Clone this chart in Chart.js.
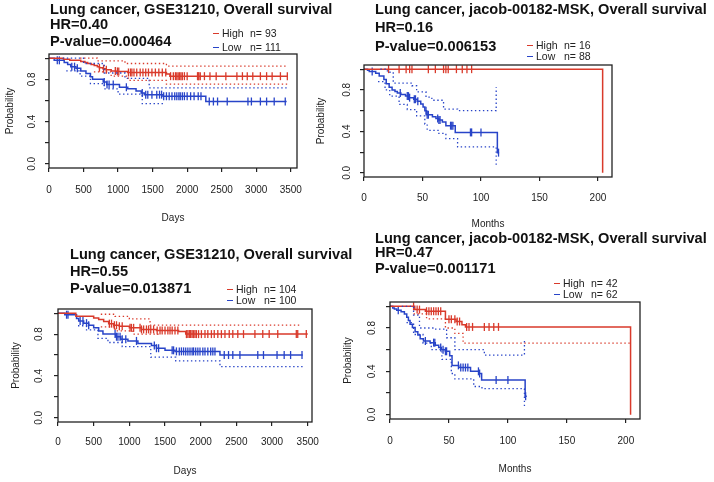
<!DOCTYPE html>
<html>
<head>
<meta charset="utf-8">
<script src="https://cdn.jsdelivr.net/npm/chart.js@4.4.1/dist/chart.umd.min.js"></script>
<style>
  html, body { margin: 0; padding: 0; background: #fff; }
  body { width: 714px; height: 482px; position: relative; overflow: hidden;
         font-family: "Liberation Sans", Arial, sans-serif; color: #111; }
  canvas { position: absolute; left: 0; top: 0; }
  .t { position: absolute; font-weight: bold; font-size: 14.6px; line-height: 1; white-space: nowrap; }
  .lg { position: absolute; font-size: 10.5px; line-height: 1; white-space: nowrap; color: #222; }
  .dash { position: absolute; width: 6px; height: 0; border-top: 1.6px solid; }
</style>
</head>
<body>
<canvas id="p1" width="714" height="482"></canvas>
<canvas id="p2" width="714" height="482"></canvas>
<canvas id="p3" width="714" height="482"></canvas>
<canvas id="p4" width="714" height="482"></canvas>

<div class="t" style="left:50px;top:1.5px">Lung cancer, GSE31210, Overall survival</div>
<div class="t" style="left:50px;top:16.5px">HR=0.40</div>
<div class="t" style="left:50px;top:33.5px">P-value=0.000464</div>

<div class="t" style="left:375px;top:2px">Lung cancer, jacob-00182-MSK, Overall survival</div>
<div class="t" style="left:375px;top:19.5px">HR=0.16</div>
<div class="t" style="left:375px;top:38.5px">P-value=0.006153</div>

<div class="t" style="left:70px;top:246.5px">Lung cancer, GSE31210, Overall survival</div>
<div class="t" style="left:70px;top:263.5px">HR=0.55</div>
<div class="t" style="left:70px;top:280.5px">P-value=0.013871</div>

<div class="t" style="left:375px;top:230.5px">Lung cancer, jacob-00182-MSK, Overall survival</div>
<div class="t" style="left:375px;top:245px">HR=0.47</div>
<div class="t" style="left:375px;top:261px">P-value=0.001171</div>

<div id="legends"></div>

<script>
// ---- shared axis ticks ----
const yTicks = [0, 0.2, 0.4, 0.6, 0.8, 1.0];
const yTickLabels = ["0.0", "", "0.4", "", "0.8", ""];
const dayTicks = [0, 500, 1000, 1500, 2000, 2500, 3000, 3500];
const monthTicks = [0, 50, 100, 150, 200];

// ---- panel 1: GSE31210 (days) ----
const p1HighT = [0, 210, 300, 460, 520, 560, 610, 655, 700, 730, 780, 825, 900, 970, 1140, 1700, 1750, 3460];
const p1HighS = [1, 0.99, 0.98, 0.97, 0.96, 0.95, 0.94, 0.93, 0.92, 0.91, 0.90, 0.89, 0.88, 0.875, 0.865, 0.85, 0.83, 0.83];
const p1HighCens = [730, 790, 830, 960, 990, 1010, 1150, 1180, 1200, 1230, 1270, 1320, 1360, 1400, 1440, 1490, 1540, 1590, 1640, 1690, 1760, 1800, 1830, 1850, 1870, 1890, 1910, 1930, 1960, 2000, 2150, 2160, 2170, 2190, 2250, 2330, 2420, 2560, 2720, 2800, 2870, 2950, 3060, 3150, 3230, 3350, 3450];
const p1HighUpT = [450, 700, 1100, 1700, 3460];
const p1HighUpS = [1.0, 0.975, 0.95, 0.925, 0.925];
const p1HighLoT = [650, 900, 1150, 1700, 3460];
const p1HighLoS = [0.87, 0.83, 0.79, 0.755, 0.755];
const p1LowT = [0, 75, 220, 270, 315, 390, 460, 535, 600, 630, 785, 835, 1020, 1140, 1260, 1335, 1380, 1650, 2270, 3440];
const p1LowS = [1, 0.98, 0.96, 0.94, 0.92, 0.905, 0.88, 0.855, 0.825, 0.80, 0.775, 0.75, 0.725, 0.71, 0.69, 0.67, 0.655, 0.64, 0.59, 0.59];
const p1LowCens = [120, 150, 330, 370, 410, 800, 840, 870, 930, 1120, 1350, 1400, 1430, 1490, 1560, 1600, 1630, 1660, 1700, 1740, 1780, 1820, 1850, 1880, 1900, 1930, 1960, 2000, 2050, 2100, 2160, 2200, 2320, 2380, 2440, 2580, 2880, 2930, 3060, 3150, 3260, 3420];
const p1LowUpT = [200, 500, 800, 1100, 1450, 3440];
const p1LowUpS = [1.0, 0.95, 0.86, 0.81, 0.72, 0.72];
const p1LowLoT = [250, 450, 600, 800, 1000, 1350, 1650];
const p1LowLoS = [0.88, 0.83, 0.76, 0.71, 0.66, 0.57, 0.56];

// ---- panel 2: jacob-00182-MSK (months) ----
const p2HighT = [0, 204];
const p2HighS = [1, 0];
const p2HighCens = [21, 30, 36, 39, 41, 55, 61, 68, 70, 72, 79, 84, 88, 92];
const p2LowT = [0, 3, 4.5, 10, 13, 17, 19, 21.5, 24, 26.5, 28.5, 31.5, 35.5, 38.5, 42.5, 45.5, 48.5, 50.5, 52, 53.5, 58.5, 61.5, 64, 67, 70, 78, 114, 115.5];
const p2LowS = [1, 0.99, 0.977, 0.96, 0.935, 0.90, 0.86, 0.825, 0.80, 0.785, 0.77, 0.755, 0.74, 0.725, 0.71, 0.69, 0.665, 0.635, 0.60, 0.56, 0.54, 0.525, 0.51, 0.49, 0.455, 0.39, 0.195, 0.195];
const p2LowCens = [7, 31, 37, 38, 39, 43, 44, 46, 53, 54, 55, 63, 64, 65, 74, 75, 76, 91, 92, 100, 115];
const p2LowUpT = [14, 20, 25, 41, 45, 53, 58, 68, 80, 113];
const p2LowUpS = [1, 0.97, 0.865, 0.84, 0.78, 0.73, 0.70, 0.615, 0.60, 0.825];
const p2LowLoT = [12, 18, 22, 30, 37, 45, 52, 54, 64, 70, 80, 113];
const p2LowLoS = [0.88, 0.80, 0.74, 0.66, 0.61, 0.55, 0.47, 0.41, 0.38, 0.33, 0.25, 0.06];

// ---- panel 3: GSE31210 (days) ----
const p3HighT = [0, 250, 500, 570, 640, 710, 780, 860, 1000, 1170, 1380, 1690, 1790, 3500];
const p3HighS = [1, 0.97, 0.955, 0.94, 0.92, 0.90, 0.885, 0.875, 0.86, 0.845, 0.835, 0.825, 0.80, 0.80];
const p3HighCens = [720, 750, 790, 820, 860, 900, 1010, 1030, 1060, 1150, 1170, 1200, 1240, 1270, 1300, 1340, 1390, 1430, 1460, 1500, 1540, 1570, 1600, 1640, 1680, 1800, 1820, 1840, 1850, 1860, 1880, 1900, 1920, 1940, 1970, 2010, 2060, 2100, 2150, 2190, 2240, 2290, 2340, 2400, 2450, 2520, 2600, 2760, 2870, 2960, 3080, 3340, 3360, 3480];
const p3HighUpT = [600, 800, 1000, 1290, 3400];
const p3HighUpS = [0.99, 0.97, 0.945, 0.885, 0.885];
const p3HighLoT = [600, 800, 1050, 1400];
const p3HighLoS = [0.87, 0.83, 0.80, 0.78];
const p3LowT = [0, 95, 260, 290, 360, 430, 500, 570, 630, 810, 880, 980, 1120, 1310, 1380, 1500, 1640, 2270, 3430];
const p3LowS = [1, 0.985, 0.95, 0.925, 0.905, 0.885, 0.86, 0.83, 0.80, 0.775, 0.75, 0.735, 0.71, 0.69, 0.665, 0.645, 0.635, 0.60, 0.60];
const p3LowCens = [120, 140, 310, 350, 400, 430, 800, 820, 840, 870, 900, 950, 1100, 1350, 1380, 1410, 1600, 1620, 1660, 1700, 1730, 1760, 1790, 1820, 1850, 1880, 1900, 1930, 1960, 1990, 2030, 2060, 2100, 2140, 2170, 2200, 2330, 2390, 2450, 2550, 2800, 2880, 3070, 3170, 3260, 3420];
const p3LowLoT = [280, 400, 560, 700, 900, 1300, 1650, 2270, 3430];
const p3LowLoS = [0.88, 0.84, 0.76, 0.72, 0.68, 0.58, 0.545, 0.49, 0.49];

// ---- panel 4: jacob-00182-MSK (months) ----
const p4HighT = [0, 21, 30, 47, 56, 61, 64, 204];
const p4HighS = [1, 0.97, 0.955, 0.88, 0.86, 0.83, 0.81, 0];
const p4HighCens = [20, 23, 25, 31, 33, 35, 37, 39, 41, 43, 50, 52, 55, 57, 59, 65, 67, 70, 80, 84, 88, 92];
const p4HighLoT = [20, 31, 47, 55, 62, 204];
const p4HighLoS = [0.93, 0.885, 0.80, 0.75, 0.66, 0.66];
const p4LowT = [0, 2.3, 3.7, 5.7, 9.4, 12.2, 14.2, 15.6, 17, 19, 21.3, 23.6, 25.6, 28.4, 34, 38.4, 41.3, 43.5, 47, 50.6, 52.6, 58.3, 68.3, 75.4, 77.7, 114.6, 116];
const p4LowS = [1, 0.985, 0.975, 0.965, 0.95, 0.93, 0.90, 0.87, 0.835, 0.805, 0.765, 0.735, 0.70, 0.68, 0.665, 0.64, 0.62, 0.60, 0.585, 0.545, 0.455, 0.435, 0.40, 0.38, 0.32, 0.17, 0.17];
const p4LowCens = [7, 30, 37, 38, 43, 45, 47, 48, 58, 60, 62, 64, 66, 75, 76, 90, 100, 115];
const p4LowUpT = [10, 20, 25, 38, 48, 55, 68, 80, 114];
const p4LowUpS = [1, 0.92, 0.80, 0.79, 0.71, 0.60, 0.60, 0.55, 0.69];
const p4LowLoT = [14, 20, 28, 35, 44, 52, 55, 71, 78, 114];
const p4LowLoS = [0.85, 0.74, 0.66, 0.60, 0.51, 0.38, 0.33, 0.26, 0.24, 0.06];

// ---- legend text ----
const legendRows = [
  { x: 213, y: 28, name: "High", n: "n= 93", col: "red" },
  { x: 213, y: 42, name: "Low", n: "n= 111", col: "blue" },
  { x: 527, y: 40, name: "High", n: "n= 16", col: "red" },
  { x: 527, y: 51, name: "Low", n: "n= 88", col: "blue" },
  { x: 227, y: 284, name: "High", n: "n= 104", col: "red" },
  { x: 227, y: 295, name: "Low", n: "n= 100", col: "blue" },
  { x: 554, y: 278, name: "High", n: "n= 42", col: "red" },
  { x: 554, y: 289, name: "Low", n: "n= 62", col: "blue" }
];

const RED = "#d93a2b";
const BLUE = "#2844c8";
const AXIS = "#222";
Chart.defaults.font.family = "'Liberation Sans', Arial, sans-serif";

const legendBox = document.getElementById("legends");
legendRows.forEach(r => {
  const color = r.col === "red" ? RED : BLUE;
  legendBox.insertAdjacentHTML("beforeend",
    `<div class="dash" style="left:${r.x}px;top:${r.y + 5}px;border-color:${color}"></div>` +
    `<div class="lg" style="left:${r.x + 9}px;top:${r.y}px">${r.name}</div>` +
    `<div class="lg" style="left:${r.x + 37}px;top:${r.y}px">${r.n}</div>`);
});

// value of a step (KM) curve at time t
function survAt(times, surv, t) {
  let s = surv[0];
  for (let i = 0; i < times.length; i++) if (times[i] <= t) s = surv[i];
  return s;
}

// Chart.js "before": run flat to the next time, then drop there (KM style).
function stepLine(t, s, color, dotted) {
  return {
    data: t.map((x, i) => ({ x, y: s[i] })),
    borderColor: color,
    borderWidth: dotted ? 1.3 : 1.5,
    borderDash: dotted ? [1.4, 2.6] : [],
    stepped: "before",
    pointRadius: 0,
    fill: false
  };
}

function censorMarks(c, t, s, color) {
  return {
    data: c.map(x => ({ x, y: survAt(t, s, x) })),
    showLine: false,
    pointStyle: "line",
    rotation: 90,
    pointRadius: 4,
    pointBorderColor: color,
    pointBackgroundColor: color,
    pointBorderWidth: 1.3,
    borderColor: color
  };
}

const boxPlugin = {
  id: "kmBox",
  afterDraw(chart) {
    const { ctx, chartArea: a } = chart;
    ctx.save();
    ctx.strokeStyle = AXIS;
    ctx.lineWidth = 1.3;
    ctx.strokeRect(a.left, a.top, a.right - a.left, a.bottom - a.top);
    ctx.restore();
  }
};

function makePanel(id, g, xTicks, xTitle, datasets) {
  const yW = g.L - g.probX + 6;      // y-axis box width: title centre lands on probX
  const xH = g.xTitleY - g.B + 6;    // x-axis box height: title centre lands on xTitleY
  new Chart(document.getElementById(id), {
    type: "line",
    data: { datasets },
    plugins: [boxPlugin],
    options: {
      responsive: false,
      animation: false,
      events: [],
      layout: { padding: { left: g.L - yW, top: g.T, right: 714 - g.R, bottom: 482 - g.B - xH } },
      plugins: { legend: { display: false }, tooltip: { enabled: false } },
      scales: {
        x: {
          type: "linear",
          min: 0,
          max: g.xMax,
          afterBuildTicks: s => { s.ticks = xTicks.map(v => ({ value: v })); },
          afterFit: s => { s.height = xH; },
          ticks: {
            autoSkip: false, minRotation: 0, maxRotation: 0,
            padding: g.xLabY - g.B - 4 - 5.7,
            color: AXIS, font: { size: 10 },
            callback: v => String(v)
          },
          grid: { drawOnChartArea: false, tickLength: 4, color: AXIS, lineWidth: 1.2 },
          border: { display: false },
          title: { display: true, text: xTitle, padding: 0, color: AXIS, font: { size: 10 } }
        },
        y: {
          type: "linear",
          min: -0.04,
          max: 1.04,
          afterBuildTicks: s => { s.ticks = yTicks.map(v => ({ value: v })); },
          afterFit: s => { s.width = yW; },
          ticks: {
            autoSkip: false, minRotation: 90, maxRotation: 90, crossAlign: "center",
            padding: g.L - 4 - 7 - g.yLabX,
            color: AXIS, font: { size: 10 },
            callback: (v, i) => yTickLabels[i]
          },
          grid: { drawOnChartArea: false, tickLength: 4, color: AXIS, lineWidth: 1.2 },
          border: { display: false },
          title: { display: true, text: "Probability", padding: 0, color: AXIS, font: { size: 10 } }
        }
      }
    }
  });
}

makePanel("p1",
  { L: 49, T: 54, R: 297, B: 168, xMax: 3590, yLabX: 32, probX: 10, xLabY: 190, xTitleY: 218 },
  dayTicks, "Days", [
    stepLine(p1HighUpT, p1HighUpS, RED, true),
    stepLine(p1HighLoT, p1HighLoS, RED, true),
    stepLine(p1LowUpT, p1LowUpS, BLUE, true),
    stepLine(p1LowLoT, p1LowLoS, BLUE, true),
    stepLine(p1HighT, p1HighS, RED, false),
    stepLine(p1LowT, p1LowS, BLUE, false),
    censorMarks(p1HighCens, p1HighT, p1HighS, RED),
    censorMarks(p1LowCens, p1LowT, p1LowS, BLUE)
  ]);

makePanel("p2",
  { L: 364, T: 65, R: 612, B: 177, xMax: 212, yLabX: 347, probX: 321, xLabY: 198, xTitleY: 224 },
  monthTicks, "Months", [
    stepLine(p2LowUpT, p2LowUpS, BLUE, true),
    stepLine(p2LowLoT, p2LowLoS, BLUE, true),
    stepLine(p2HighT, p2HighS, RED, false),
    stepLine(p2LowT, p2LowS, BLUE, false),
    censorMarks(p2HighCens, p2HighT, p2HighS, RED),
    censorMarks(p2LowCens, p2LowT, p2LowS, BLUE)
  ]);

makePanel("p3",
  { L: 58, T: 309, R: 312, B: 422, xMax: 3560, yLabX: 39, probX: 16, xLabY: 442, xTitleY: 471 },
  dayTicks, "Days", [
    stepLine(p3HighUpT, p3HighUpS, RED, true),
    stepLine(p3HighLoT, p3HighLoS, RED, true),
    stepLine(p3LowLoT, p3LowLoS, BLUE, true),
    stepLine(p3HighT, p3HighS, RED, false),
    stepLine(p3LowT, p3LowS, BLUE, false),
    censorMarks(p3HighCens, p3HighT, p3HighS, RED),
    censorMarks(p3LowCens, p3LowT, p3LowS, BLUE)
  ]);

makePanel("p4",
  { L: 390, T: 302, R: 640, B: 419, xMax: 212, yLabX: 372, probX: 348, xLabY: 441, xTitleY: 469 },
  monthTicks, "Months", [
    stepLine(p4HighLoT, p4HighLoS, RED, true),
    stepLine(p4LowUpT, p4LowUpS, BLUE, true),
    stepLine(p4LowLoT, p4LowLoS, BLUE, true),
    stepLine(p4HighT, p4HighS, RED, false),
    stepLine(p4LowT, p4LowS, BLUE, false),
    censorMarks(p4HighCens, p4HighT, p4HighS, RED),
    censorMarks(p4LowCens, p4LowT, p4LowS, BLUE)
  ]);
</script>
</body>
</html>
